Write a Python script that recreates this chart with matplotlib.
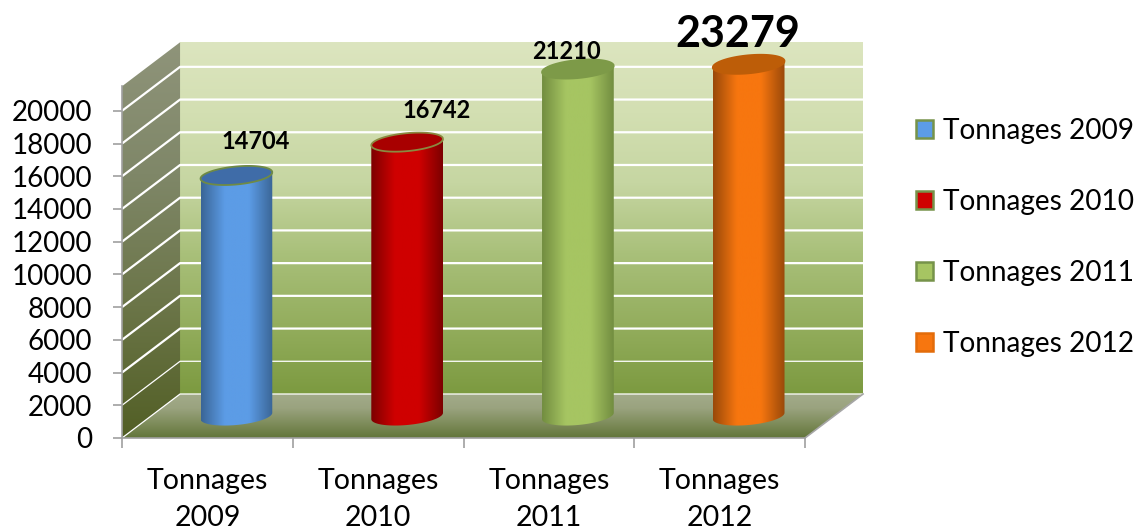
import numpy as np
from matplotlib import pyplot as plt
from matplotlib.colors import LinearSegmentedColormap
from matplotlib.patches import PathPatch, Patch, Polygon
from matplotlib.path import Path

categories = ["Tonnages 2009", "Tonnages 2010", "Tonnages 2011", "Tonnages 2012"]
tonnages = [14704, 16742, 21210, 23279]
y_ticks = list(range(0, 20001, 2000))
axis_max = 21500  # the source chart cuts the 2012 bar off here

bar_edge = ["#3a6596", "#7c0000", "#728d40", "#99490a"]
bar_mid = ["#5c9ce6", "#cf0000", "#a6c562", "#f7760f"]
bar_top = ["#3f6ca8", "#a80000", "#7d9a48", "#bd5d08"]
rim = ["#6f8a45", "#8a8a40", "#7d9a48", "#bd5d08"]
legend_edge = ["#76934a", "#76934a", "#76934a", "#e36c0a"]

label_sizes = [17, 17, 17, 31]
label_offsets = [(19, 34), (30, 32), (-11, 18), (-11, 30)]  # pixels from the bar top

# depth of the fake 3d box, in data units
depth_x = 0.34
depth_y = 2690
bar_rx = 0.21
bar_ry = 550
bar_shear = 195

plt.rcParams["font.family"] = ["Lato", "DejaVu Sans"]


def gradient(ax, colors, verts, horizontal=False, zorder=1):
	# fill a polygon with a linear gradient, first colour at top/left
	xs, ys = zip(*verts)
	cmap = LinearSegmentedColormap.from_list("g", colors)
	ramp = np.linspace(0, 1, 256)
	ramp = ramp.reshape(1, -1) if horizontal else ramp.reshape(-1, 1)
	im = ax.imshow(ramp, cmap=cmap, extent=(min(xs), max(xs), min(ys), max(ys)),
		origin="upper", aspect="auto", zorder=zorder, interpolation="bilinear")
	clip = Polygon(verts, closed=True, transform=ax.transData)
	im.set_clip_box(ax.figure.bbox)
	im.set_clip_path(clip)
	return im


def main():
	fig = plt.figure(figsize=(11.39, 5.31), dpi=100)
	ax = fig.add_axes([122 / 1139, (531 - 438) / 531, 683 / 1139, 351.7 / 531])
	ax.patch.set_visible(False)
	n = len(categories)

	top = axis_max + depth_y
	# back wall
	gradient(ax, ["#dce5bf", "#d3dfb2", "#c6d6a2", "#a9c07a", "#94ae5e", "#7c9a40"],
		[(depth_x, depth_y), (n + depth_x, depth_y), (n + depth_x, top), (depth_x, top)])
	# side wall
	gradient(ax, ["#8f947a", "#7f8768", "#6b7548", "#525f25"],
		[(0, 0), (depth_x, depth_y), (depth_x, top), (0, axis_max)])
	# floor
	gradient(ax, ["#a3ab8a", "#9aa37f", "#7f8d5c", "#62753a"],
		[(0, 0), (n, 0), (n + depth_x, depth_y), (depth_x, depth_y)])

	for tick in y_ticks:
		lw = 0.9 if tick < 4000 else 1.6
		ax.plot([0, depth_x, n + depth_x], [tick, tick + depth_y, tick + depth_y],
			color="white", lw=lw, clip_on=False, zorder=2, solid_capstyle="butt")
	ax.plot([n, n + depth_x], [0, depth_y], color="#a6a6a6", lw=1.2, clip_on=False, zorder=2)

	theta = np.linspace(0, 2 * np.pi, 121)
	for i, value in enumerate(tonnages):
		height = min(value, axis_max)
		cx = i + 0.5 + depth_x / 2
		base = depth_y / 2
		tip = base + height

		# body: left side, round the bottom ellipse, up the right side
		lower = np.linspace(np.pi, 2 * np.pi, 60)
		bottom_x = cx + bar_rx * np.cos(lower)
		bottom_y = base + bar_ry * np.sin(lower) + bar_shear * np.cos(lower)
		upper = np.linspace(0, np.pi, 60)
		top_x = cx + bar_rx * np.cos(upper)
		top_y = tip + bar_ry * np.sin(upper) + bar_shear * np.cos(upper)
		body = list(zip(bottom_x, bottom_y)) + list(zip(top_x, top_y))
		gradient(ax, [bar_edge[i], bar_mid[i], bar_mid[i], bar_edge[i]], body, horizontal=True, zorder=3)

		cap = np.column_stack([cx + bar_rx * np.cos(theta),
			tip + bar_ry * np.sin(theta) + bar_shear * np.cos(theta)])
		ax.add_patch(PathPatch(Path(cap), facecolor=bar_top[i], edgecolor=rim[i], lw=1.3,
			clip_on=False, zorder=4))

		ax.annotate(str(value), xy=(cx, tip), xytext=label_offsets[i], textcoords="offset pixels",
			ha="center", va="center", fontsize=label_sizes[i], fontweight="bold", color="black",
			annotation_clip=False, zorder=5)

	ax.set_xlim(0, n)
	ax.set_ylim(0, axis_max)
	for side in ["top", "right"]:
		ax.spines[side].set_visible(False)
	for side in ["left", "bottom"]:
		ax.spines[side].set_color("#a0a0a0")
		ax.spines[side].set_linewidth(1.2)
		ax.spines[side].set_zorder(6)

	ax.set_yticks(y_ticks)
	ax.tick_params(axis="y", length=6.5, width=1.2, color="#a0a0a0", labelsize=20, pad=15)
	ax.set_xticks(range(n + 1))
	ax.set_xticklabels([])
	ax.tick_params(axis="x", which="major", length=7.5, width=1.2, color="#a0a0a0")
	ax.set_xticks([i + 0.5 for i in range(n)], minor=True)
	ax.set_xticklabels([c.replace(" ", "\n") for c in categories], minor=True, fontsize=20.5,
		linespacing=1.55)
	ax.tick_params(axis="x", which="minor", length=0, pad=21.5)

	handles = [Patch(facecolor=bar_mid[i], edgecolor=legend_edge[i], lw=1.8) for i in range(n)]
	fig.legend(handles, categories, loc="center left", bbox_to_anchor=(916 / 1139, 1 - 237.5 / 531),
		frameon=False, fontsize=20.2, handlelength=0.62, handleheight=0.62, handletextpad=0.33,
		labelspacing=1.61, borderpad=0, borderaxespad=0)

	fig.savefig("out.png", dpi=100)
	plt.close(fig)


if __name__ == "__main__":
	main()
